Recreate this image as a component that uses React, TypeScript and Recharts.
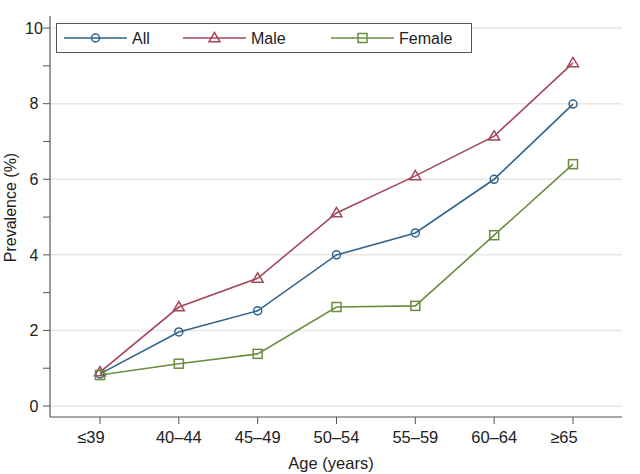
import { CartesianGrid, Legend, Line, LineChart, ReferenceLine, XAxis, YAxis } from "recharts";

const ageGroups = ["≤39", "40–44", "45–49", "50–54", "55–59", "60–64", "≥65"];
const allValues = [0.85, 1.96, 2.52, 4.0, 4.58, 6.0, 7.99];
const maleValues = [0.9, 2.62, 3.38, 5.11, 6.09, 7.14, 9.08];
const femaleValues = [0.82, 1.12, 1.38, 2.62, 2.65, 4.52, 6.4];
const yTicks = [0, 1, 2, 3, 4, 5, 6, 7, 8, 9, 10];
const gridValues = [0, 2, 4, 6, 8, 10];

const FONT = "'Liberation Sans', Arial, Helvetica, sans-serif";
const AXIS = "#555";
const COLORS: Record<string, string> = {
    all: "#31638c",
    male: "#a3485a",
    female: "#6a8d3f"
};

const data = ageGroups.map((age, i) => ({
    age,
    all: allValues[i],
    male: maleValues[i],
    female: femaleValues[i]
}));

function Marker({ kind, cx, cy, color }: { kind: string; cx: number; cy: number; color: string }) {
    if (kind === "male") {
        const s = 5.5;
        return (
            <polygon
                points={`${cx},${cy - s} ${cx - s},${cy + s * 0.7} ${cx + s},${cy + s * 0.7}`}
                fill="none"
                stroke={color}
                strokeWidth={1.5} />
        );
    }
    if (kind === "female") {
        return <rect x={cx - 4.5} y={cy - 4.5} width={9} height={9} fill="none" stroke={color} strokeWidth={1.5} />;
    }
    return <circle cx={cx} cy={cy} r={4} fill="none" stroke={color} strokeWidth={1.5} />;
}

const dotFor = (kind: string) => (props: any) => (
    <Marker key={`${kind}-${props.index}`} kind={kind} cx={props.cx} cy={props.cy} color={COLORS[kind]} />
);

function YTick(props: any) {
    const { y, payload } = props;
    const v = payload.value;
    const major = v % 2 === 0;
    return (
        <g>
            <line x1={43} x2={50} y1={y} y2={y} stroke={AXIS} strokeWidth={1} />
            {major && (
                <text x={34} y={y} dy="0.36em" textAnchor="middle" fontSize={16} fontFamily={FONT} fill="#222">
                    {v}
                </text>
            )}
        </g>
    );
}

// the ≤ / ≥ labels sit a little left of their tick in the original
function XTick(props: any) {
    const { x, y, payload } = props;
    const label: string = payload.value;
    const shift = label.startsWith("≤") || label.startsWith("≥") ? -9 : 0;
    return (
        <text x={x + shift} y={y} dy="0.71em" textAnchor="middle" fontSize={16.5} fontFamily={FONT} fill="#222">
            {label}
        </text>
    );
}

function LegendBox({ payload }: any) {
    const items = [
        { key: "all", x: 7 },
        { key: "male", x: 126 },
        { key: "female", x: 274 }
    ];
    const names: Record<string, string> = {};
    (payload || []).forEach((p: any) => { names[p.dataKey] = p.value; });
    return (
        <div style={{ width: 416, height: 30, border: "1px solid #555", boxSizing: "border-box", background: "#fff" }}>
            <svg width={414} height={28}>
                {items.map(it => (
                    <g key={it.key}>
                        <line x1={it.x} x2={it.x + 63} y1={14} y2={14} stroke={COLORS[it.key]} strokeWidth={1.6} />
                        <Marker kind={it.key} cx={it.x + 31.5} cy={14} color={COLORS[it.key]} />
                        <text x={it.x + 68} y={14} dy="0.36em" fontSize={16} fontFamily={FONT} fill="#222">
                            {names[it.key]}
                        </text>
                    </g>
                ))}
            </svg>
        </div>
    );
}

export default function App() {
    return (
        <div style={{ width: 640, height: 474, background: "#fff" }}>
            <style>{"body{margin:0}"}</style>
            <LineChart width={640} height={474} data={data} margin={{ top: 16, right: 18, left: 0, bottom: 0 }}>
                <CartesianGrid horizontal={false} vertical={false} />
                {gridValues.map(v => (
                    <ReferenceLine key={v} y={v} stroke="#ebe6e6" strokeWidth={1.5} />
                ))}
                <XAxis
                    dataKey="age"
                    height={57}
                    padding={{ left: 50, right: 49 }}
                    axisLine={{ stroke: AXIS, strokeWidth: 1.2 }}
                    tickLine={{ stroke: AXIS }}
                    tickSize={7}
                    tickMargin={7}
                    tick={<XTick />}
                    interval={0}
                    label={{ value: "Age (years)", position: "insideBottom", offset: 5, dx: -5, fill: "#222", fontSize: 16.5, fontFamily: FONT }} />
                <YAxis
                    type="number"
                    width={50}
                    domain={[-0.29, 10.32]}
                    allowDataOverflow
                    ticks={yTicks}
                    interval={0}
                    axisLine={{ stroke: AXIS, strokeWidth: 1.2 }}
                    tickLine={false}
                    tick={<YTick />}
                    label={{
                        content: (p: any) => {
                            const vb = p.viewBox || {};
                            const cy = (vb.y || 0) + (vb.height || 0) / 2 - 9;
                            return (
                                <text x={10} y={cy} transform={`rotate(-90, 10, ${cy})`} textAnchor="middle" dy="0.36em" fontSize={16} fontFamily={FONT} fill="#222">
                                    Prevalence (%)
                                </text>
                            );
                        }
                    }} />
                <Legend
                    layout="horizontal"
                    verticalAlign="middle"
                    align="center"
                    wrapperStyle={{ position: "absolute", left: 56, top: 23, width: 416, height: 30 }}
                    content={<LegendBox />} />
                <Line name="All" dataKey="all" stroke={COLORS.all} strokeWidth={1.6} dot={dotFor("all")} activeDot={false} isAnimationActive={false} />
                <Line name="Male" dataKey="male" stroke={COLORS.male} strokeWidth={1.6} dot={dotFor("male")} activeDot={false} isAnimationActive={false} />
                <Line name="Female" dataKey="female" stroke={COLORS.female} strokeWidth={1.6} dot={dotFor("female")} activeDot={false} isAnimationActive={false} />
            </LineChart>
        </div>
    );
}
